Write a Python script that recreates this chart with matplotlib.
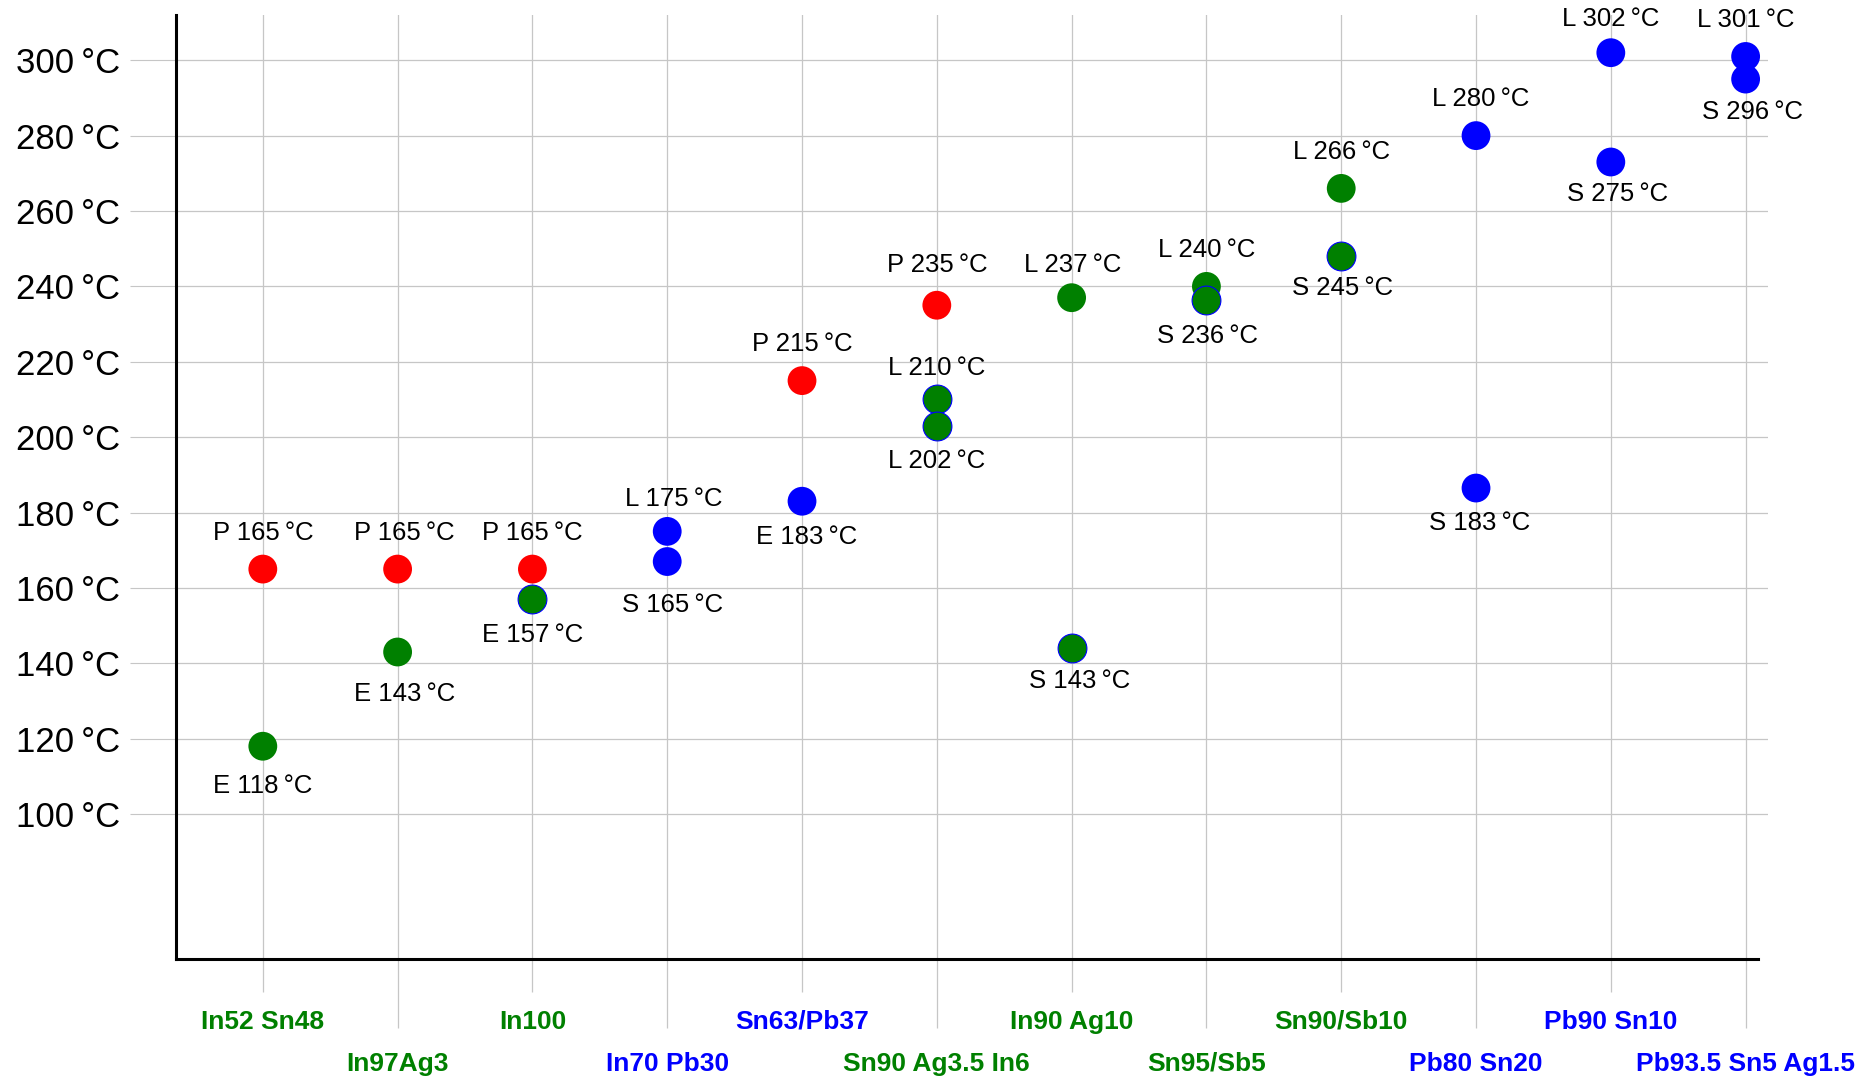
import numpy as np
import matplotlib
matplotlib.use('Agg')
import matplotlib.pyplot as plt

plt.rcParams['font.family'] = ['Liberation Sans', 'DejaVu Sans']

# alloys (x axis), label colour tells the group
alloys = ['In52 Sn48', 'In97Ag3', 'In100', 'In70 Pb30', 'Sn63/Pb37',
          'Sn90 Ag3.5 In6', 'In90 Ag10', 'Sn95/Sb5', 'Sn90/Sb10',
          'Pb80 Sn20', 'Pb90 Sn10', 'Pb93.5 Sn5 Ag1.5']
alloy_col = ['g', 'g', 'g', 'b', 'b', 'g', 'g', 'g', 'g', 'b', 'b', 'b']

# points: column index, temperature as drawn, label text, colour, label above/below
pt_x = [0, 0, 1, 1, 2, 2, 3, 3, 4, 4, 5, 5, 5, 6, 6, 7, 7, 8, 8, 9, 9, 10, 10, 11, 11]
pt_y = [165, 118, 165, 143, 165, 157, 175, 167, 215, 183, 235, 210, 203, 237, 144,
        240, 236.3, 266, 248, 280, 186.5, 302, 273, 301, 295]
pt_lab = ['P 165', 'E 118', 'P 165', 'E 143', 'P 165', 'E 157', 'L 175', 'S 165',
          'P 215', 'E 183', 'P 235', 'L 210', 'L 202', 'L 237', 'S 143',
          'L 240', 'S 236', 'L 266', 'S 245', 'L 280', 'S 183', 'L 302', 'S 275',
          'L 301', 'S 296']
pt_col = ['r', 'g', 'r', 'g', 'r', 'g', 'b', 'b', 'r', 'b', 'r', 'g', 'g', 'g', 'g',
          'g', 'g', 'g', 'g', 'b', 'b', 'b', 'b', 'b', 'b']
pt_up = [1, 0, 1, 0, 1, 0, 1, 0, 1, 0, 1, 1, 0, 1, 0, 1, 0, 1, 0, 1, 0, 1, 0, 1, 0]
# green dots sitting on a blue outline
pt_edge = [0, 0, 0, 0, 0, 1, 0, 0, 0, 0, 0, 1, 1, 0, 1, 0, 1, 0, 1, 0, 0, 0, 0, 0, 0]

# small nudges of the labels (points)
lab_dx = [0, 0, 5, 5, 0, 0, 5, 3.5, 0, 3.5, 0, 0, 0, 1, 6, 0, 0.8, 0, 0.8, 3.5, 2.5, 0, 5, 0, 5]
lab_dy = [0, -3.4, 0, -5, 0, 0, -2.6, -6, 0, 0, 2.6, -3.4, 0, -2.6, 1.7, 0, 0, 0, 2.6,
          0, 0, -1.7, 2.6, 0, 1.7]

yticks = np.arange(100, 301, 20)

colors = {'r': '#ff0000', 'g': '#008000', 'b': '#0000ff'}
grid_c = '#c6c6c6'

fig = plt.figure(figsize=(18.73, 10.79), dpi=100)
ax = fig.add_axes([175.6 / 1873, 1 - 959.2 / 1079, (1768 - 175.6) / 1873, (959.2 - 15) / 1079])

ax.set_xlim(-0.647, 11.166)
ax.set_ylim(61.5, 312)

for i in range(len(pt_x)):
    ec = '#0000ff' if pt_edge[i] else 'none'
    ax.scatter(pt_x[i], pt_y[i], s=430, color=colors[pt_col[i]], edgecolors=ec,
               linewidths=0.8 if pt_edge[i] else 0, zorder=3)
    txt = pt_lab[i] + '\u2009°C'
    base = 21 if pt_up[i] else -30.5
    ax.annotate(txt, (pt_x[i], pt_y[i]), xytext=(lab_dx[i], base + lab_dy[i]),
                textcoords='offset points', ha='center', va='baseline',
                fontsize=18.5, color='black')

ax.set_yticks(yticks, labels=['%d\u2009°C' % v for v in yticks])
ax.tick_params(axis='y', length=33, width=0.8, color=grid_c, pad=7, labelsize=25)

even = list(range(0, 12, 2))
odd = list(range(1, 12, 2))
ax.set_xticks(even, labels=[alloys[i] for i in even])
ax.set_xticks(odd, labels=[alloys[i] for i in odd], minor=True)
ax.tick_params(axis='x', which='major', length=24, width=0.9, color=grid_c, pad=12.5)
ax.tick_params(axis='x', which='minor', length=50, width=0.9, color=grid_c, pad=16.5)
for lab, i in zip(ax.get_xticklabels(), even):
    lab.set_color(colors[alloy_col[i]])
    lab.set_fontweight('bold')
    lab.set_fontsize(19)
for lab, i in zip(ax.get_xticklabels(minor=True), odd):
    lab.set_color(colors[alloy_col[i]])
    lab.set_fontweight('bold')
    lab.set_fontsize(19)

ax.grid(True, axis='x', which='both', color=grid_c, lw=0.9)
ax.grid(True, axis='y', which='major', color=grid_c, lw=0.9)
ax.set_axisbelow(True)

ax.spines['top'].set_visible(False)
ax.spines['right'].set_visible(False)
ax.spines['left'].set_linewidth(2.2)
ax.spines['bottom'].set_linewidth(2.2)
ax.spines['bottom'].set_bounds(-0.647, 11.09)

fig.savefig('out.png', dpi=100)
